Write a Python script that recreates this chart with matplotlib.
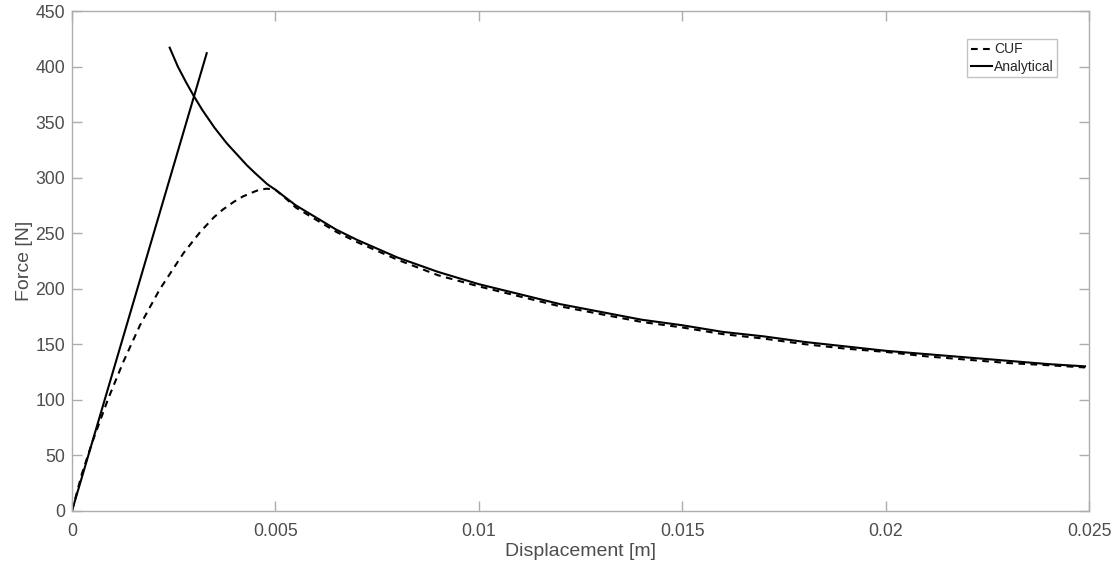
import matplotlib
matplotlib.use("Agg")
import matplotlib.pyplot as plt

# ---- data ----
cuf_disp = [0, 0.00024, 0.0005, 0.00089, 0.00126, 0.00167, 0.00215, 0.00274, 0.00315,
            0.00348, 0.0037, 0.00397, 0.0042, 0.00446, 0.0046, 0.00479, 0.0050, 0.0052, 0.0055,
            0.006, 0.0065, 0.007, 0.0075, 0.008, 0.009, 0.010, 0.011, 0.012, 0.013,
            0.014, 0.015, 0.016, 0.017, 0.018, 0.019, 0.020, 0.021, 0.022, 0.023,
            0.024, 0.0249]
cuf_force = [0, 33, 62, 101, 134, 167, 199, 232, 251,
             264, 271, 278, 283, 287, 289, 290, 289, 283, 273,
             262, 251, 242, 234, 226, 212, 202, 193, 184, 177,
             170, 165, 159, 155, 150, 146, 143, 139, 136, 133,
             131, 129]

lin_disp = [0, 0.00331]
lin_force = [0, 412]

post_disp = [0.0024, 0.0026, 0.0028, 0.0030, 0.0032, 0.0035, 0.0038, 0.0040, 0.0043,
             0.0045, 0.0048, 0.0050, 0.0055, 0.0060, 0.0065, 0.0070, 0.0075, 0.0080,
             0.0090, 0.010, 0.011, 0.012, 0.013, 0.014, 0.015, 0.016, 0.017,
             0.018, 0.019, 0.020, 0.021, 0.022, 0.023, 0.024, 0.0249]
post_force = [417, 400, 386, 373, 361, 345, 331, 323, 311,
              304, 294, 289, 275, 264, 253, 244, 236, 228,
              215, 204, 195, 186, 179, 172, 167, 161, 157,
              152, 148, 144, 141, 138, 135, 132, 130]

x_ticks = [0, 0.005, 0.01, 0.015, 0.02, 0.025]
x_tick_labels = ["0", "0.005", "0.01", "0.015", "0.02", "0.025"]
y_ticks = [0, 50, 100, 150, 200, 250, 300, 350, 400, 450]

# ---- style ----
plt.rcParams['font.family'] = ['Liberation Sans', 'DejaVu Sans']
txt = '#4d4d4d'
spine = '#adadad'

fig = plt.figure(figsize=(11.17, 5.68), dpi=100)
ax = fig.add_axes([0.0645, 0.1009, 0.9105, 0.8797])

ax.plot(cuf_disp, cuf_force, color='black', lw=1.5, linestyle=(0, (3.2, 2.6)), label='CUF')
ax.plot(lin_disp, lin_force, color='black', lw=1.5, label='Analytical')
ax.plot(post_disp, post_force, color='black', lw=1.5)

ax.set_xlim(0, 0.025)
ax.set_ylim(0, 450)
ax.set_xticks(x_ticks)
ax.set_xticklabels(x_tick_labels)
ax.set_yticks(y_ticks)

for s in ax.spines.values():
    s.set_color(spine)
    s.set_linewidth(1.0)

ax.tick_params(axis='both', which='both', direction='in', top=True, right=True,
               colors=spine, labelcolor=txt, labelsize=12.7, width=1.0, length=7.2)
ax.tick_params(axis='x', pad=8.7)
ax.tick_params(axis='y', pad=5)

ax.set_xlabel('Displacement [m]', fontsize=14, color=txt, labelpad=2.6)
ax.set_ylabel('Force [N]', fontsize=14, color=txt, labelpad=1.5)

leg = ax.legend(loc='upper right', bbox_to_anchor=(0.9685, 0.944), fontsize=10,
                frameon=True, fancybox=False, handlelength=1.5, handletextpad=0.15,
                borderpad=0.25, labelspacing=0.25, borderaxespad=0)
leg.get_frame().set_edgecolor('#b3b3b3')
leg.get_frame().set_linewidth(1.0)
for t in leg.get_texts():
    t.set_color('#262626')

fig.savefig('out.png', dpi=100, facecolor='white')
